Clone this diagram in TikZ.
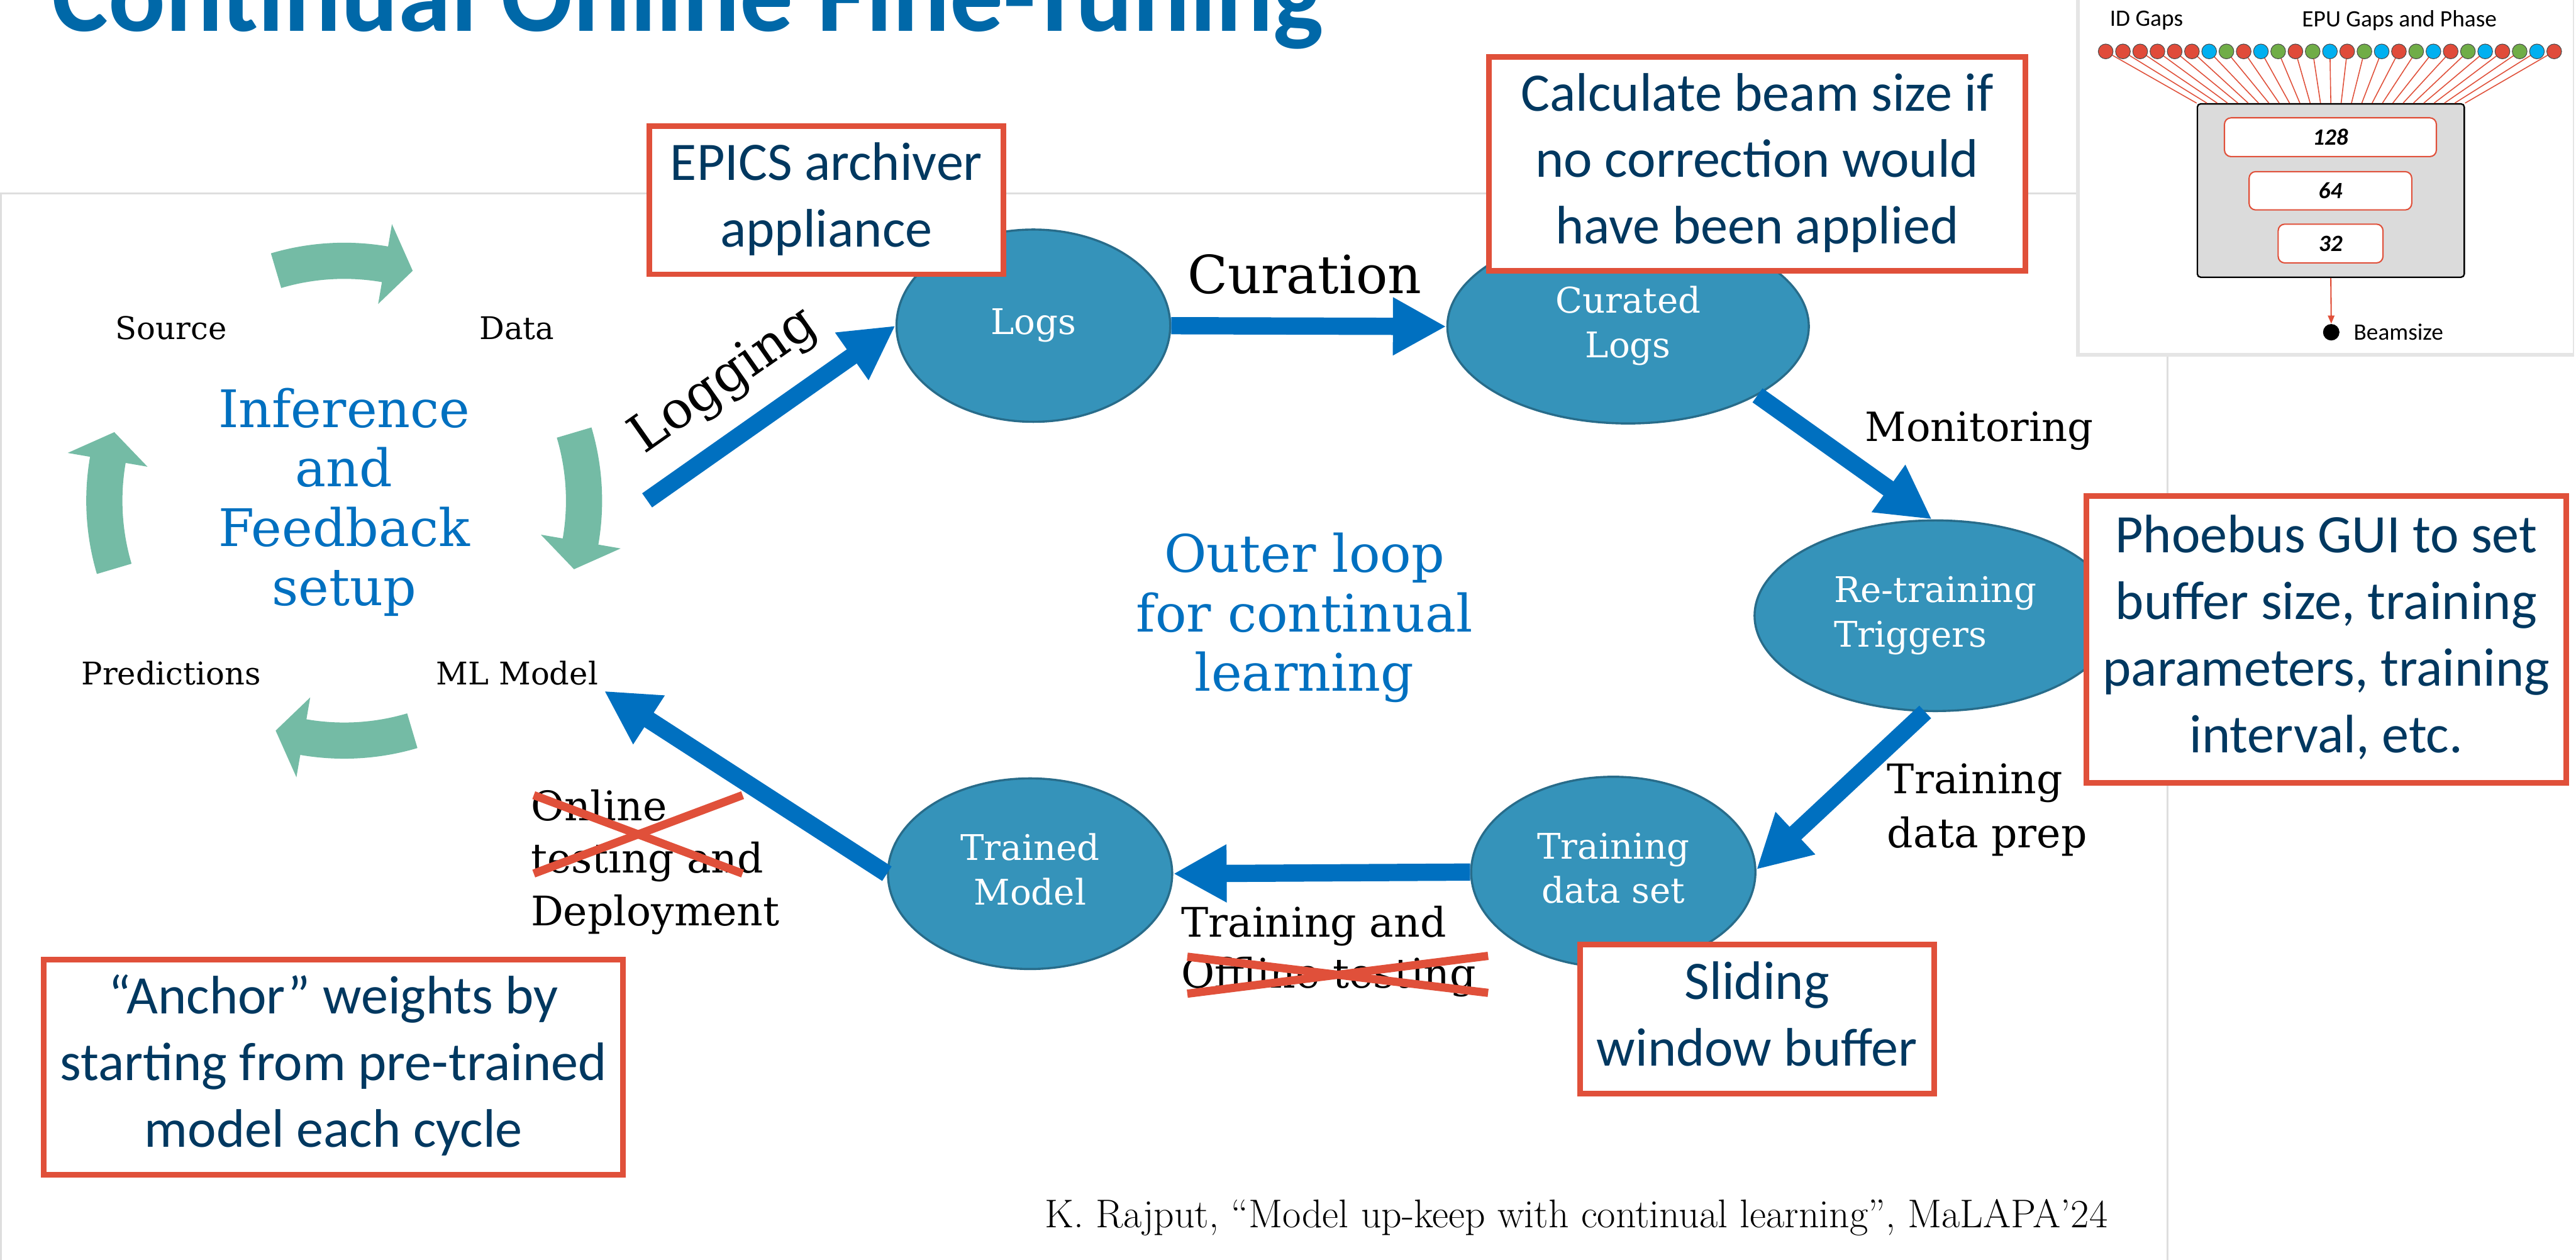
\documentclass[tikz,border=0pt]{standalone}
\usepackage{fontspec}
\usetikzlibrary{shapes.geometric,arrows.meta,calc}
\newfontfamily\serifface{DejaVu Serif}
\newfontfamily\calface{Carlito}

\definecolor{titleblue}{RGB}{0,104,168}
\definecolor{flowblue}{RGB}{0,112,192}
\definecolor{nodefill}{RGB}{53,147,186}
\definecolor{nodeline}{RGB}{40,108,138}
\definecolor{cycgreen}{RGB}{116,187,165}
\definecolor{boxred}{RGB}{224,80,58}
\definecolor{navy}{RGB}{0,56,96}
\definecolor{nnred}{RGB}{224,75,58}
\definecolor{nnblue}{RGB}{0,176,240}
\definecolor{nngreen}{RGB}{112,173,71}
\definecolor{framegray}{RGB}{222,222,222}

% stacked lines: first baseline is the box baseline
\newcommand{\mlines}[1]{\begin{tabular}[t]{@{}c@{}}#1\end{tabular}}
\newcommand{\mlinesl}[1]{\begin{tabular}[t]{@{}l@{}}#1\end{tabular}}

\tikzset{
  flow/.style={draw=flowblue, line width=10.5pt, -{Triangle[length=32.5pt,width=33pt]}},
  stage/.style={ellipse, fill=nodefill, draw=nodeline, line width=1.3pt, inner sep=0pt,
    text=white, font=\serifface\fontsize{21.5}{27}\selectfont},
  callout/.style={rectangle, draw=boxred, line width=3.4pt, fill=white, inner sep=0pt,
    text=navy, font=\calface\fontsize{33}{40.5}\selectfont},
  lbl/.style={inner sep=0pt, text=black, font=\serifface\fontsize{19}{23}\selectfont},
  flowlbl/.style={inner sep=0pt, text=black, font=\serifface\fontsize{24.8}{32}\selectfont},
  bigblue/.style={inner sep=0pt, text=flowblue, font=\serifface\fontsize{31.5}{36.2}\selectfont},
  strike/.style={draw=boxred, line width=5pt},
  cycarrow/.style={fill=cycgreen},
  nnlayer/.style={draw=boxred, line width=0.8pt, fill=white, rounded corners=4pt, inner sep=0pt,
    font=\calface\bfseries\itshape\fontsize{14.2}{17}\selectfont},
  nntext/.style={inner sep=0pt, font=\calface\fontsize{14.3}{17}\selectfont},
}

\begin{document}
\begin{tikzpicture}[x=1pt,y=1pt]
\useasboundingbox (0,0) rectangle (1568,766.7);
\fill[white] (0,0) rectangle (1568,766.7);

% frame of the embedded figure
\draw[framegray, line width=1.2pt] (0.6,-2) -- (0.6,649) -- (1319.4,649) -- (1319.4,-2);

% inner inference cycle
\coordinate (cyc) at (209.5,462);
\foreach \a in {90,0,270,180} {
  \fill[cycarrow] ($(cyc)+({\a+16.5}:157)$)
    arc[start angle={\a+16.5}, end angle={\a-9.8}, radius=157pt]
    -- ($(cyc)+({\a-9.8}:170.8)$) -- ($(cyc)+({\a-16.6}:146)$)
    -- ($(cyc)+({\a-9.8}:121.5)$) -- ($(cyc)+({\a-9.8}:135)$)
    arc[start angle={\a-9.8}, end angle={\a+16.5}, radius=135pt] -- cycle;
}
\node[lbl, anchor=base] (source) at (104.2,560.1) {Source};
\node[lbl, anchor=base] (data) at (314.6,560.1) {Data};
\node[lbl, anchor=base] (pred) at (104.2,350.2) {Predictions};
\node[lbl, anchor=base, inner sep=3.5pt] (ml) at (314.8,350.2) {ML Model};
\node[bigblue, anchor=base] (inner) at (209.5,506.7) {\mlines{Inference\\and\\Feedback\\setup}};

% outer loop
\node[bigblue, anchor=base] (outer) at (794,418.5) {\mlines{Outer loop\\for continual\\learning}};

\node[stage, minimum width=166.6pt, minimum height=117pt] (logs) at (629,568.5) {Logs};
\node[stage, minimum width=220pt, minimum height=118pt] (curated) at (991,568) {\mlines{Curated\\Logs}};
\node[stage, minimum width=220pt, minimum height=116pt] (retrain) at (1178,392) {\mlinesl{Re-training\\Triggers}};
\node[stage, minimum width=173pt, minimum height=116pt] (dataset) at (982,236) {\mlines{Training\\data set}};
\node[stage, minimum width=173pt, minimum height=116pt] (trained) at (627,235) {\mlines{Trained\\Model}};

\coordinate (logtail) at (393.9,462.2);
\draw[flow] (logtail) -- (logs.west);
\draw[flow] (logs.east) -- (curated.west);
\draw[flow] (curated.-28.6) -- (retrain.92);
\draw[flow] (retrain.-96.7) -- (dataset.1.7);
\draw[flow] (dataset.west) -- (trained.east);
\draw[flow] (trained.west) -- (ml.south east);

\node[flowlbl, font=\serifface\fontsize{31.5}{36}\selectfont, rotate=35.1] (loglbl) at (441,534.5) {Logging};
\node[flowlbl, font=\serifface\fontsize{32}{38}\selectfont, anchor=base] (curlbl) at (794,588.1) {Curation};
\node[flowlbl, font=\serifface\fontsize{24.5}{30}\selectfont, anchor=base] (monlbl) at (1204.8,498.1) {Monitoring};
\node[flowlbl, font=\serifface\fontsize{24.8}{33}\selectfont, anchor=base west] (preplbl) at (1148.6,283.8) {\mlinesl{Training\\data prep}};
\node[flowlbl, font=\serifface\fontsize{24.8}{31}\selectfont, anchor=base west] (offlbl) at (718.8,196.6) {\mlinesl{Training and\\Offline testing}};
\node[flowlbl, anchor=base west] (onlbl) at (322.9,267.5) {\mlinesl{Online\\testing and\\Deployment}};

% struck-out wording
\draw[strike] (324.9,282.8) -- (452,235.1);
\draw[strike] (324.9,235.1) -- (452,282.8);
\draw[strike] (722.7,184.5) -- (905.8,162.5);
\draw[strike] (722.7,162) -- (905.8,185);

% callouts
\node[callout, minimum width=215.8pt, minimum height=90.2pt] (epics) at (503,644.9) {\mlines{EPICS archiver\\appliance}};
\node[callout, minimum width=326.5pt, minimum height=130.2pt] (calcbox) at (1069.55,666.9) {\mlines{Calculate beam size if\\no correction would\\have been applied}};
\node[callout, minimum width=292.1pt, minimum height=174.4pt] (phoebus) at (1415.95,377.6) {\mlines{Phoebus GUI to set\\buffer size, training\\parameters, training\\interval, etc.}};
\node[callout, minimum width=352.6pt, minimum height=131.1pt] (anchorbox) at (203,117.25) {\mlines{“Anchor” weights by\\starting from pre-trained\\model each cycle}};
\node[callout, minimum width=215.6pt, minimum height=90.8pt] (sliding) at (1069.5,146.5) {\mlines{Sliding\\window buffer}};

% network inset
\fill[gray!20] (1263.5,549.5) rectangle (1566.8,767);
\fill[white] (1266,552) rectangle (1566,767);
\node[nntext] (idgaps) at (1306.5,754.2) {ID Gaps};
\node[nntext] (epugaps) at (1460.5,754.2) {EPU Gaps and Phase};
\node[draw=black, line width=0.9pt, fill=gray!28, rounded corners=2pt, minimum width=162.5pt,
  minimum height=105.5pt, inner sep=0pt] (nn) at (1418.75,650.75) {};
\node[nnlayer, minimum width=129pt, minimum height=23.6pt] (l128) at (1418.5,683.2) {128};
\node[nnlayer, minimum width=99pt, minimum height=23.3pt] (l64) at (1418.5,650.6) {64};
\node[nnlayer, minimum width=63.8pt, minimum height=23.6pt] (l32) at (1418.6,618.5) {32};
\foreach \c [count=\i from 0] in {nnred,nnred,nnred,nnred,nnred,nnred,nnblue,nngreen,nnred,
    nnblue,nngreen,nnred,nngreen,nnblue,nnred,nngreen,nnblue,nnred,nngreen,nnblue,nnred,
    nngreen,nnblue,nnred,nngreen,nnblue,nnred} {
  \draw[boxred, line width=0.6pt] ({1281.7+10.5*\i},735.4) -- ($(nn.north west)!{\i/26}!(nn.north east)$);
  \node[circle, fill=\c, draw=black!70, line width=0.4pt, minimum size=9pt, inner sep=0pt] (in\i) at ({1281.7+10.5*\i},735.4) {};
}
\node[circle, fill=black, minimum size=10pt, inner sep=0pt] (beam) at (1419,564.5) {};
\draw[boxred, line width=0.8pt, -{Triangle[length=5pt,width=4pt]}] (nn.south) -- (beam.north);
\node[nntext, anchor=west] (beamlbl) at (1432.5,564.8) {Beamsize};

% title and reference
\node[anchor=base west, inner sep=0pt, text=titleblue, font=\calface\bfseries\fontsize{64.8}{70}\selectfont] (title) at (31.5,747.9) {Continual Online Fine-Tuning};
\node[anchor=base west, inner sep=0pt, font=\fontsize{24.4}{29}\selectfont] (cite) at (636,19.5) {K. Rajput, “Model up-keep with continual learning”, MaLAPA’24};
\end{tikzpicture}
\end{document}
